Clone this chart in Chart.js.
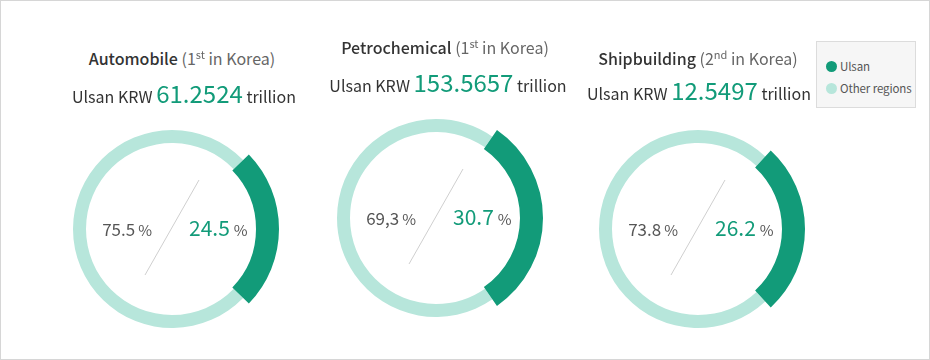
<!DOCTYPE html>
<html><head><meta charset="utf-8">
<script src="https://cdn.jsdelivr.net/npm/chart.js@4.4.1/dist/chart.umd.min.js"></script>
<style>
html,body{margin:0;padding:0;background:#fff;}
#stage{position:relative;width:930px;height:360px;overflow:hidden;font-family:'Noto Sans CJK KR','Noto Sans',sans-serif;}
#frame{position:absolute;left:0;top:0;width:930px;height:360px;box-sizing:border-box;border:1px solid #d6d6d6;}
.t{position:absolute;white-space:nowrap;line-height:40px;}
.t span{line-height:40px;}
.title{font-size:16px;color:#333;font-weight:500;text-align:center;width:360px;}
.rank{font-weight:400;color:#666;}
.sup{font-size:11px;position:relative;top:-6px;}
.line2{font-size:16px;color:#333;text-align:center;width:360px;}
.num{font-size:24px;color:#129b79;}
.gl{font-size:17px;color:#555;text-align:right;width:200px;}
.gl .pc{font-size:15px;margin-left:3px;}
.gr{font-size:21px;color:#129b79;text-align:left;width:200px;}
.gr .pc{font-size:15px;color:#555;margin-left:4px;}
canvas{position:absolute;}
#legend{position:absolute;left:816px;top:41px;width:100px;height:67px;box-sizing:border-box;border:1px solid #dcdcdc;background:#f6f6f6;}
.li{position:absolute;left:9px;font-size:11.5px;color:#555;line-height:16px;white-space:nowrap;letter-spacing:-0.1px;}
.dot{display:inline-block;width:11px;height:11px;border-radius:50%;vertical-align:-1px;margin-right:3px;}
</style></head><body>
<div id="stage"><div id="frame"></div><div id="legend"></div></div>
<script>
// ---- data ----
const categories = ["Automobile", "Petrochemical", "Shipbuilding"];
const rankNumbers = ["1", "1", "2"];
const rankSuffixes = ["st", "st", "nd"];
const outputTrillionKRW = ["61.2524", "153.5657", "12.5497"];
const seriesNames = ["Ulsan", "Other regions"];
const ulsanShare = [24.5, 30.7, 26.2];
const otherShare = [75.5, 69.3, 73.8];
const ulsanShareLabels = ["24.5", "30.7", "26.2"];
const otherShareLabels = ["75.5", "69,3", "73.8"];

// ---- layout / style ----
const DARK = "#129b79", LIGHT = "#b7e6db";
const centers = [[172, 229], [436, 218], [698, 229]];
const titleCX = [182, 445, 698];
const titleBase = [65, 54, 65];
const line2CX = [184, 448, 699];
const line2Base = [103.5, 92.3, 100.7];
const ringLight = { outer: 99, inner: 86 };
const ringDark = { outer: 107, inner: 84 };

const stage = document.getElementById("stage");
function addText(cls, html, left, top) {
  const d = document.createElement("div");
  d.className = "t " + cls;
  d.innerHTML = html;
  d.style.left = left + "px";
  d.style.top = top + "px";
  stage.appendChild(d);
  return d;
}

const slashPlugin = {
  id: "slash",
  afterDatasetsDraw(chart) {
    const a = chart.chartArea;
    const cx = (a.left + a.right) / 2, cy = (a.top + a.bottom) / 2;
    const c = chart.ctx;
    c.save();
    c.strokeStyle = "#cfcfcf";
    c.lineWidth = 1;
    c.beginPath();
    c.moveTo(cx + 27, cy - 49);
    c.lineTo(cx - 27, cy + 46);
    c.stroke();
    c.restore();
  }
};

function makeCanvas(cx, cy) {
  const cv = document.createElement("canvas");
  cv.width = 240; cv.height = 240;
  cv.style.width = "240px"; cv.style.height = "240px";
  cv.style.left = (cx - 120) + "px";
  cv.style.top = (cy - 120) + "px";
  stage.appendChild(cv);
  return cv;
}

for (let i = 0; i < categories.length; i++) {
  const [cx, cy] = centers[i];
  const rot = 90 - ulsanShare[i] * 360 / (ulsanShare[i] + otherShare[i]) / 2;
  const common = {
    responsive: false, animation: false, events: [],
    rotation: rot,
    layout: { padding: 0 },
    plugins: { legend: { display: false }, tooltip: { enabled: false } }
  };
  new Chart(makeCanvas(cx, cy), {
    type: "doughnut",
    data: { labels: seriesNames, datasets: [{ data: [ulsanShare[i], otherShare[i]], backgroundColor: [LIGHT, LIGHT], borderWidth: 0 }] },
    options: Object.assign({}, common, { radius: ringLight.outer, cutout: (ringLight.inner / ringLight.outer * 100) + "%" }),
    plugins: [slashPlugin]
  });
  new Chart(makeCanvas(cx, cy), {
    type: "doughnut",
    data: { labels: seriesNames, datasets: [{ data: [ulsanShare[i], otherShare[i]], backgroundColor: [DARK, "rgba(0,0,0,0)"], borderWidth: 0 }] },
    options: Object.assign({}, common, { radius: ringDark.outer, cutout: (ringDark.inner / ringDark.outer * 100) + "%" })
  });

  // titles
  addText("title",
    categories[i] + ' <span class="rank">(' + rankNumbers[i] + '<span class="sup">' + rankSuffixes[i] + '</span> in Korea)</span>',
    titleCX[i] - 180, titleBase[i] - 27);
  addText("line2",
    seriesNames[0] + ' KRW <span class="num">' + outputTrillionKRW[i] + '</span> trillion',
    line2CX[i] - 180, line2Base[i] - 30.5);
  // share labels
  addText("gl", otherShareLabels[i] + '<span class="pc">%</span>', cx - 20 - 200, cy + 7 - 27.4);
  addText("gr", ulsanShareLabels[i] + '<span class="pc">%</span>', cx + 17, cy + 7 - 29);
}

// legend
const legend = document.getElementById("legend");
[DARK, LIGHT].forEach((col, k) => {
  const d = document.createElement("div");
  d.className = "li";
  d.style.top = (16 + k * 22) + "px";
  d.innerHTML = '<span class="dot" style="background:' + col + '"></span>' + seriesNames[k];
  legend.appendChild(d);
});
</script>
</body></html>
